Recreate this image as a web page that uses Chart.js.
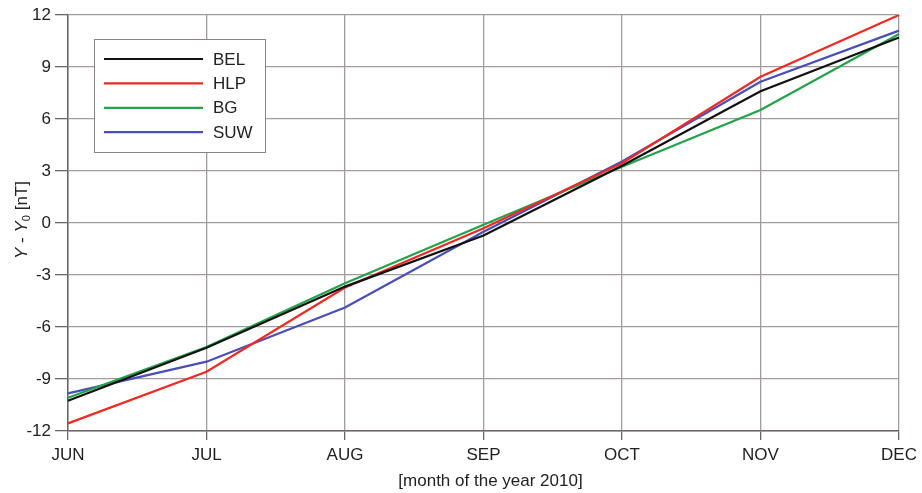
<!DOCTYPE html>
<html>
<head>
<meta charset="utf-8">
<script src="https://cdn.jsdelivr.net/npm/chart.js@4/dist/chart.umd.min.js"></script>
<style>
  html, body { margin: 0; padding: 0; background: #ffffff; }
  #wrap { width: 922px; height: 493px; position: relative; }
</style>
</head>
<body>
<div id="wrap"><canvas id="c" width="922" height="493"></canvas></div>
<script>
// Monthly Y-component offsets (nT) at four observatories, June–December 2010
const months = ['JUN', 'JUL', 'AUG', 'SEP', 'OCT', 'NOV', 'DEC'];
const bel = [-10.25, -7.2, -3.67, -0.72, 3.3, 7.6, 10.7];
const hlp = [-11.56, -8.58, -3.72, -0.3, 3.45, 8.44, 12.0];
const bg  = [-10.08, -7.15, -3.48, -0.1, 3.25, 6.52, 10.9];
const suw = [-9.83, -8.0, -4.87, -0.5, 3.55, 8.15, 11.1];
const yTicks = [-12, -9, -6, -3, 0, 3, 6, 9, 12];

const FONT = '"Liberation Sans", Arial, sans-serif';
const TEXT = '#222222';
const GRID = '#a39c9c';
const AXIS = '#6e6666';

// Legend box in the upper-left corner of the plot
const boxLegend = {
  id: 'boxLegend',
  afterDraw(chart) {
    const ctx = chart.ctx;
    const a = chart.chartArea;
    const x0 = a.left + 26, y0 = a.top + 24, w = 171, h = 113;
    ctx.save();
    ctx.fillStyle = '#ffffff';
    ctx.fillRect(x0, y0, w, h);
    ctx.strokeStyle = '#8a8585';
    ctx.lineWidth = 1;
    ctx.strokeRect(x0 + 0.5, y0 + 0.5, w, h);
    ctx.font = '17px ' + FONT;
    ctx.textBaseline = 'middle';
    ctx.fillStyle = TEXT;
    chart.data.datasets.forEach((ds, i) => {
      const y = y0 + 20 + i * 24.4;
      ctx.strokeStyle = ds.borderColor;
      ctx.lineWidth = 2.2;
      ctx.beginPath();
      ctx.moveTo(x0 + 10, y);
      ctx.lineTo(x0 + 109, y);
      ctx.stroke();
      ctx.fillText(ds.label, x0 + 119, y + 1);
    });
    ctx.restore();
  }
};

// Axis titles (the y title carries an italic Y and a subscript 0)
const axisTitles = {
  id: 'axisTitles',
  afterDraw(chart) {
    const ctx = chart.ctx;
    const a = chart.chartArea;
    ctx.save();
    ctx.fillStyle = TEXT;
    ctx.font = '17px ' + FONT;
    ctx.textAlign = 'center';
    ctx.textBaseline = 'middle';
    ctx.fillText('[month of the year 2010]', (a.left + a.right) / 2 + 7, a.bottom + 50);

    ctx.translate(22, (a.top + a.bottom) / 2 - 3);
    ctx.rotate(-Math.PI / 2);
    const parts = [
      { t: 'Y', f: 'italic 17px ' + FONT, dy: 0 },
      { t: ' - ', f: '17px ' + FONT, dy: 0 },
      { t: 'Y', f: 'italic 17px ' + FONT, dy: 0 },
      { t: '0', f: '11px ' + FONT, dy: 5 },
      { t: ' [nT]', f: '17px ' + FONT, dy: 0 }
    ];
    let total = 0;
    parts.forEach(p => { ctx.font = p.f; total += ctx.measureText(p.t).width; });
    let x = -total / 2;
    ctx.textAlign = 'left';
    parts.forEach(p => {
      ctx.font = p.f;
      ctx.fillText(p.t, x, p.dy);
      x += ctx.measureText(p.t).width;
    });
    ctx.restore();
  }
};

const line = (label, data, color) => ({
  label, data,
  borderColor: color,
  backgroundColor: color,
  borderWidth: 2.2,
  pointRadius: 0,
  tension: 0,
  fill: false
});

new Chart(document.getElementById('c'), {
  type: 'line',
  data: {
    labels: months,
    datasets: [
      line('BEL', bel, '#111111'),
      line('HLP', hlp, '#ee2a24'),
      line('BG', bg, '#22a34a'),
      line('SUW', suw, '#4a4fb8')
    ]
  },
  options: {
    responsive: false,
    animation: false,
    devicePixelRatio: 1,
    layout: { padding: { top: 15, right: 23, left: 0, bottom: 0 } },
    plugins: { legend: { display: false }, tooltip: { enabled: false } },
    scales: {
      x: {
        type: 'category',
        offset: false,
        grid: { color: GRID, lineWidth: 1.3, tickLength: 9, tickColor: AXIS, drawTicks: true },
        border: { color: AXIS, width: 1.5 },
        ticks: {
          color: TEXT, font: { family: FONT, size: 17 },
          padding: 5, maxRotation: 0, autoSkip: false
        },
        afterFit(s) { s.height = 62; }
      },
      y: {
        min: -12, max: 12,
        afterBuildTicks(s) { s.ticks = yTicks.map(v => ({ value: v })); },
        grid: { color: GRID, lineWidth: 1.3, tickLength: 13, tickColor: AXIS, drawTicks: true },
        border: { color: AXIS, width: 1.5 },
        ticks: {
          color: TEXT, font: { family: FONT, size: 17 },
          padding: 4,
          callback: v => String(v)
        },
        afterFit(s) { s.width = 68; }
      }
    }
  },
  plugins: [boxLegend, axisTitles]
});
</script>
</body>
</html>
